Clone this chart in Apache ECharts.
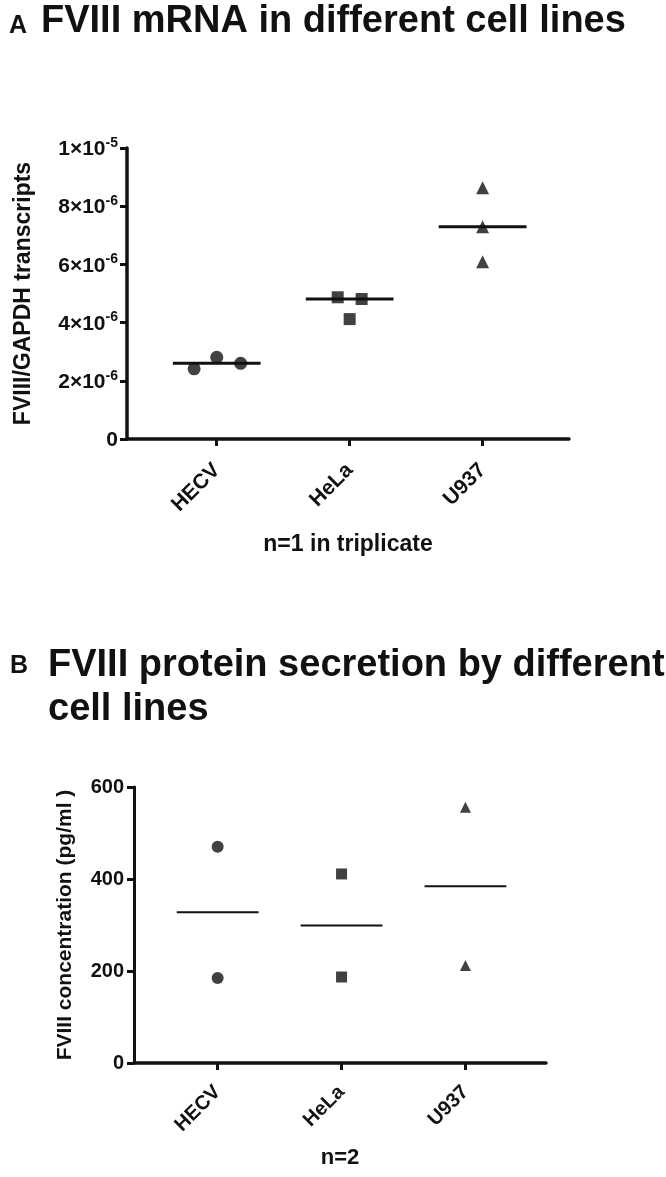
<!DOCTYPE html>
<html><head><meta charset="utf-8">
<script src="https://cdn.jsdelivr.net/npm/echarts@6/dist/echarts.min.js"></script>
<style>html,body{margin:0;padding:0;background:#fff}#c{width:666px;height:1177px}</style>
</head><body><div id="c"></div>
<script>
// ---- data ----
const categories = ['HECV', 'HeLa', 'U937'];
// Panel A: FVIII/GAPDH transcripts, n=1 in triplicate
const mrnaHECV = [2.41e-6, 2.81e-6, 2.60e-6];
const mrnaHeLa = [4.87e-6, 4.81e-6, 4.12e-6];
const mrnaU937 = [8.63e-6, 7.29e-6, 6.09e-6];
const yTicksA = [0, 2e-6, 4e-6, 6e-6, 8e-6, 1e-5];
const yTickLabelsA = [['0', ''], ['2×10', '-6'], ['4×10', '-6'], ['6×10', '-6'], ['8×10', '-6'], ['1×10', '-5']];
// Panel B: FVIII concentration (pg/ml), n=2
const protHECV = [470, 185];
const protHeLa = [411, 187];
const protU937 = [556, 212];
const yTicksB = [0, 200, 400, 600];
// horizontal scatter offsets (layout only)
const jitterA = [[-0.17, 0, 0.18], [-0.09, 0.09, 0], [0, 0, 0]];

const FONT = '"Liberation Sans", Arial, Helvetica, sans-serif';
const INK = '#111';

function median(a) { const s = a.slice().sort((x, y) => x - y); const m = Math.floor(s.length / 2); return s.length % 2 ? s[m] : (s[m - 1] + s[m]) / 2; }
function mean(a) { return a.reduce((p, c) => p + c, 0) / a.length; }

function scatterAt(idx, catIdx, vals, jit, symbol, size) {
  return {
    type: 'scatter', xAxisIndex: idx, yAxisIndex: idx, symbol: symbol, symbolSize: size,
    itemStyle: { color: INK }, silent: true, z: 3,
    data: vals.map((v, i) => [catIdx + 1 + (jit ? jit[i] : 0), v])
  };
}
function levels(idx, vals, hw, lw) {
  return {
    type: 'custom', xAxisIndex: idx, yAxisIndex: idx, silent: true, z: 2,
    encode: { x: 0, y: 1 },
    renderItem: function (params, api) {
      const x = api.value(0), y = api.value(1);
      const p1 = api.coord([x - hw, y]), p2 = api.coord([x + hw, y]);
      return { type: 'line', shape: { x1: p1[0], y1: p1[1], x2: p2[0], y2: p2[1] }, style: { stroke: INK, lineWidth: lw } };
    },
    data: vals.map((v, i) => [i + 1, v])
  };
}

function xAxis(idx, name, nameGap, labelSize, nameSize, labelMargin) {
  return {
    type: 'value', gridIndex: idx, min: 0.325, max: 3.65,
    axisLine: { show: true, onZero: false, lineStyle: { color: INK, width: 3.5 } },
    axisTick: { show: true, customValues: [1, 2, 3], length: 7, lineStyle: { color: INK, width: 3 } },
    axisLabel: {
      customValues: [1, 2, 3], rotate: 45, margin: labelMargin,
      formatter: v => categories[Math.round(v) - 1] || '',
      fontFamily: FONT, fontWeight: 'bold', fontSize: labelSize, color: INK
    },
    splitLine: { show: false },
    name: name, nameLocation: 'middle', nameGap: nameGap, nameMoveOverlap: false,
    nameTextStyle: { fontFamily: FONT, fontWeight: 'bold', fontSize: nameSize, color: INK }
  };
}

const option = {
  backgroundColor: '#fff',
  animation: false,
  title: [
    { text: 'A', left: 4, top: 9, textStyle: { fontFamily: FONT, fontWeight: 'bold', fontSize: 25, color: INK } },
    { text: 'FVIII mRNA in different cell lines', left: 36, top: -2, textStyle: { fontFamily: FONT, fontWeight: 'bold', fontSize: 38, color: INK } },
    { text: 'B', left: 5, top: 649, textStyle: { fontFamily: FONT, fontWeight: 'bold', fontSize: 25, color: INK } },
    { text: 'FVIII protein secretion by different\ncell lines', left: 43, top: 639, textStyle: { fontFamily: FONT, fontWeight: 'bold', fontSize: 38, lineHeight: 44, color: INK } }
  ],
  grid: [
    { left: 127, top: 148, width: 442, height: 291, outerBoundsMode: 'none', containLabel: false },
    { left: 134, top: 787, width: 412, height: 276, outerBoundsMode: 'none', containLabel: false }
  ],
  xAxis: [
    xAxis(0, 'n=1 in triplicate', 94, 21, 23, 28),
    xAxis(1, 'n=2', 84, 20, 22, 26)
  ],
  yAxis: [
    {
      type: 'value', gridIndex: 0, min: 0, max: 1e-5, interval: 2e-6,
      axisLine: { show: true, lineStyle: { color: INK, width: 3.5 } },
      axisTick: { show: true, length: 7, lineStyle: { color: INK, width: 3 } },
      splitLine: { show: false },
      axisLabel: {
        margin: 9,
        formatter: function (v) {
          let k = yTicksA.findIndex(t => Math.abs(t - v) < 1e-9);
          if (k < 0) return '';
          const l = yTickLabelsA[k];
          return l[1] ? '{b|' + l[0] + '}{s|' + l[1] + '}' : '{b|' + l[0] + '}';
        },
        rich: {
          b: { fontFamily: FONT, fontWeight: 'bold', fontSize: 21, color: INK, verticalAlign: 'bottom', lineHeight: 24 },
          s: { fontFamily: FONT, fontWeight: 'bold', fontSize: 14, color: INK, verticalAlign: 'top', lineHeight: 14 }
        }
      },
      name: 'FVIII/GAPDH transcripts', nameLocation: 'middle', nameRotate: 90, nameGap: 92, nameMoveOverlap: false,
      nameTextStyle: { fontFamily: FONT, fontWeight: 'bold', fontSize: 23, color: INK }
    },
    {
      type: 'value', gridIndex: 1, min: 0, max: 600, interval: 200,
      axisLine: { show: true, lineStyle: { color: INK, width: 3 } },
      axisTick: { show: true, length: 7, lineStyle: { color: INK, width: 3 } },
      splitLine: { show: false },
      axisLabel: {
        margin: 10, fontFamily: FONT, fontWeight: 'bold', fontSize: 20, color: INK,
        formatter: v => (yTicksB.indexOf(v) >= 0 ? String(v) : '')
      },
      name: 'FVIII concentration (pg/ml )', nameLocation: 'middle', nameRotate: 90, nameGap: 58, nameMoveOverlap: false,
      nameTextStyle: { fontFamily: FONT, fontWeight: 'bold', fontSize: 21, color: INK }
    }
  ],
  series: [
    scatterAt(0, 0, mrnaHECV, jitterA[0], 'circle', 13),
    scatterAt(0, 1, mrnaHeLa, jitterA[1], 'rect', 12),
    scatterAt(0, 2, mrnaU937, jitterA[2], 'triangle', 13),
    levels(0, [median(mrnaHECV), median(mrnaHeLa), median(mrnaU937)], 0.33, 3),
    scatterAt(1, 0, protHECV, null, 'circle', 12),
    scatterAt(1, 1, protHeLa, null, 'rect', 11),
    scatterAt(1, 2, protU937, null, 'triangle', 11),
    levels(1, [mean(protHECV), mean(protHeLa), mean(protU937)], 0.33, 2)
  ]
};
const chart = echarts.init(document.getElementById('c'), null, { renderer: 'canvas' });
chart.setOption(option);
</script></body></html>
